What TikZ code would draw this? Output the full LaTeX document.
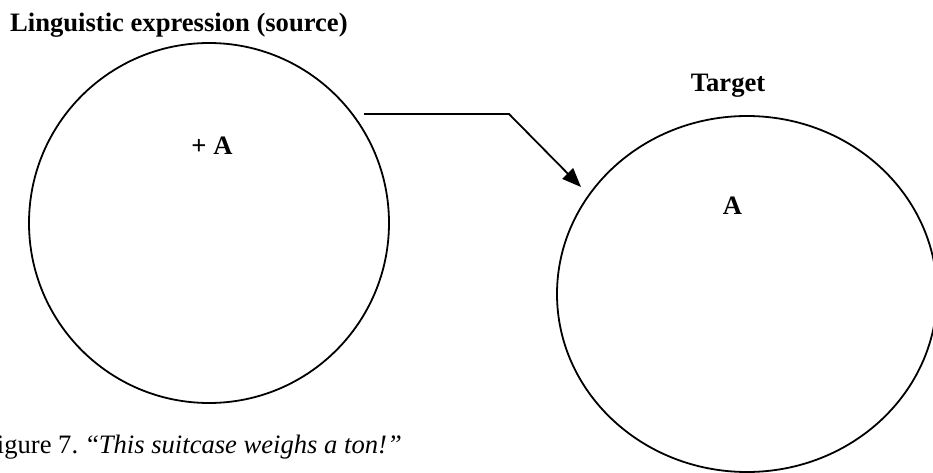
\documentclass[tikz,border=0pt]{standalone}
\usepackage{fontspec}
\setmainfont{Liberation Serif}
\usetikzlibrary{shapes.geometric,arrows.meta}
\begin{document}
\begin{tikzpicture}[x=1pt,y=-1pt,
  outline/.style={draw=black,line width=1.8pt,inner sep=0pt},
  lbl/.style={font=\fontsize{26.6}{30}\selectfont\bfseries,inner sep=0pt},
  conn/.style={draw=black,line width=1.8pt,-{Triangle[length=19pt,width=15pt]}}]
\useasboundingbox (0,0) rectangle (933,473);
\node[outline,circle,minimum size=360pt] (src) at (209,223) {};
\node[outline,ellipse,minimum width=380pt,minimum height=356pt] (tgt) at (747,294) {};
\node[lbl,anchor=base west] (srctitle) at (10,31.7) {Linguistic expression (source)};
\node[lbl,anchor=base] (tgttitle) at (728,92) {Target};
\node[lbl,anchor=base] (plusa) at (212,154) {+ A};
\node[lbl,anchor=base] (a) at (732.5,214) {A};
\node[font=\fontsize{26.6}{31}\selectfont,inner sep=0pt,anchor=base east] (caption) at (402,453)
  {Figure 7. ``\textit{This suitcase weighs a ton!''}};
\coordinate (astart) at (364,114);
\coordinate (abend) at (509,114);
\coordinate (aend) at (581,187);
\draw[conn] (astart) -- (abend) -- (aend);
\end{tikzpicture}
\end{document}
